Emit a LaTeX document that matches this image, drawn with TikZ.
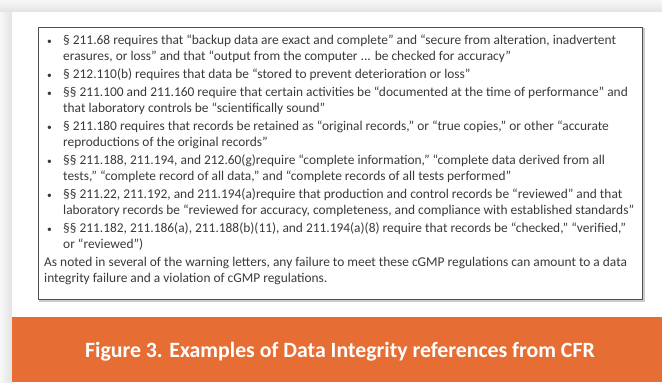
\documentclass[tikz,border=0pt]{standalone}
\usepackage{fontspec}
\setmainfont{Carlito}
\usetikzlibrary{calc}

\definecolor{banner}{RGB}{230,110,52}
\definecolor{frameline}{RGB}{80,80,80}
\definecolor{bodytext}{RGB}{58,58,58}

\tikzset{
  item/.style={anchor=base west, inner sep=0pt, text=bodytext,
    font=\fontsize{13.4}{16}\selectfont},
  dot/.style={anchor=base west, inner sep=0pt, text=bodytext,
    font=\fontsize{9.5}{10}\selectfont},
  caption/.style={text=white, font=\bfseries\fontsize{21.8}{26}\selectfont}
}

\begin{document}
\begin{tikzpicture}[x=1pt,y=-1pt]
                \useasboundingbox (0,0) rectangle (662,383);

                % page shadow and panel
                \shade[top color=gray!6, bottom color=gray!22] (0,0) rectangle (662,12);
                \shade[left color=gray!6, right color=gray!22] (0,12) rectangle (12,383);
                \fill[white] (12,12) rectangle (662,383);

                % text box
                \draw[gray!40, line width=1.2pt] (40,29) rectangle (644,301);
                \draw[frameline, fill=white, line width=0.8pt] (38,27) rectangle (642,299);

                \node[dot] (d1) at (47,44) {\textbullet};
                \node[item] (t1) at (63,44) {§ 211.68 requires that “backup data are exact and complete” and “secure from alteration, inadvertent};
                \node[item] (t1b) at (63,60) {erasures, or loss” and that “output from the computer ... be checked for accuracy”};

                \node[dot] (d2) at (47,78) {\textbullet};
                \node[item] (t2) at (63,78) {§ 212.110(b) requires that data be “stored to prevent deterioration or loss”};

                \node[dot] (d3) at (47,96) {\textbullet};
                \node[item] (t3) at (63,96) {§§ 211.100 and 211.160 require that certain activities be “documented at the time of performance” and};
                \node[item] (t3b) at (63,112) {that laboratory controls be “scientifically sound”};

                \node[dot] (d4) at (47,130) {\textbullet};
                \node[item] (t4) at (63,130) {§ 211.180 requires that records be retained as “original records,” or “true copies,” or other “accurate};
                \node[item] (t4b) at (63,146) {reproductions of the original records”};

                \node[dot] (d5) at (47,164) {\textbullet};
                \node[item] (t5) at (63,164) {§§ 211.188, 211.194, and 212.60(g)require “complete information,” “complete data derived from all};
                \node[item] (t5b) at (63,180) {tests,” “complete record of all data,” and “complete records of all tests performed”};

                \node[dot] (d6) at (47,198) {\textbullet};
                \node[item] (t6) at (63,198) {§§ 211.22, 211.192, and 211.194(a)require that production and control records be “reviewed” and that};
                \node[item] (t6b) at (63,214) {laboratory records be “reviewed for accuracy, completeness, and compliance with established standards”};

                \node[dot] (d7) at (47,232) {\textbullet};
                \node[item] (t7) at (63,232) {§§ 211.182, 211.186(a), 211.188(b)(11), and 211.194(a)(8) require that records be “checked,” “verified,”};
                \node[item] (t7b) at (63,248) {or “reviewed”)};

                \node[item] (note) at (44,266) {As noted in several of the warning letters, any failure to meet these cGMP regulations can amount to a data};
                \node[item] (noteb) at (44,282) {integrity failure and a violation of cGMP regulations.};

                % caption banner
                \fill[banner] (12,317) rectangle (662,382);
                \node[caption] (cap) at (340,352) {Figure 3. Examples of Data Integrity references from CFR};
\end{tikzpicture}
\end{document}
